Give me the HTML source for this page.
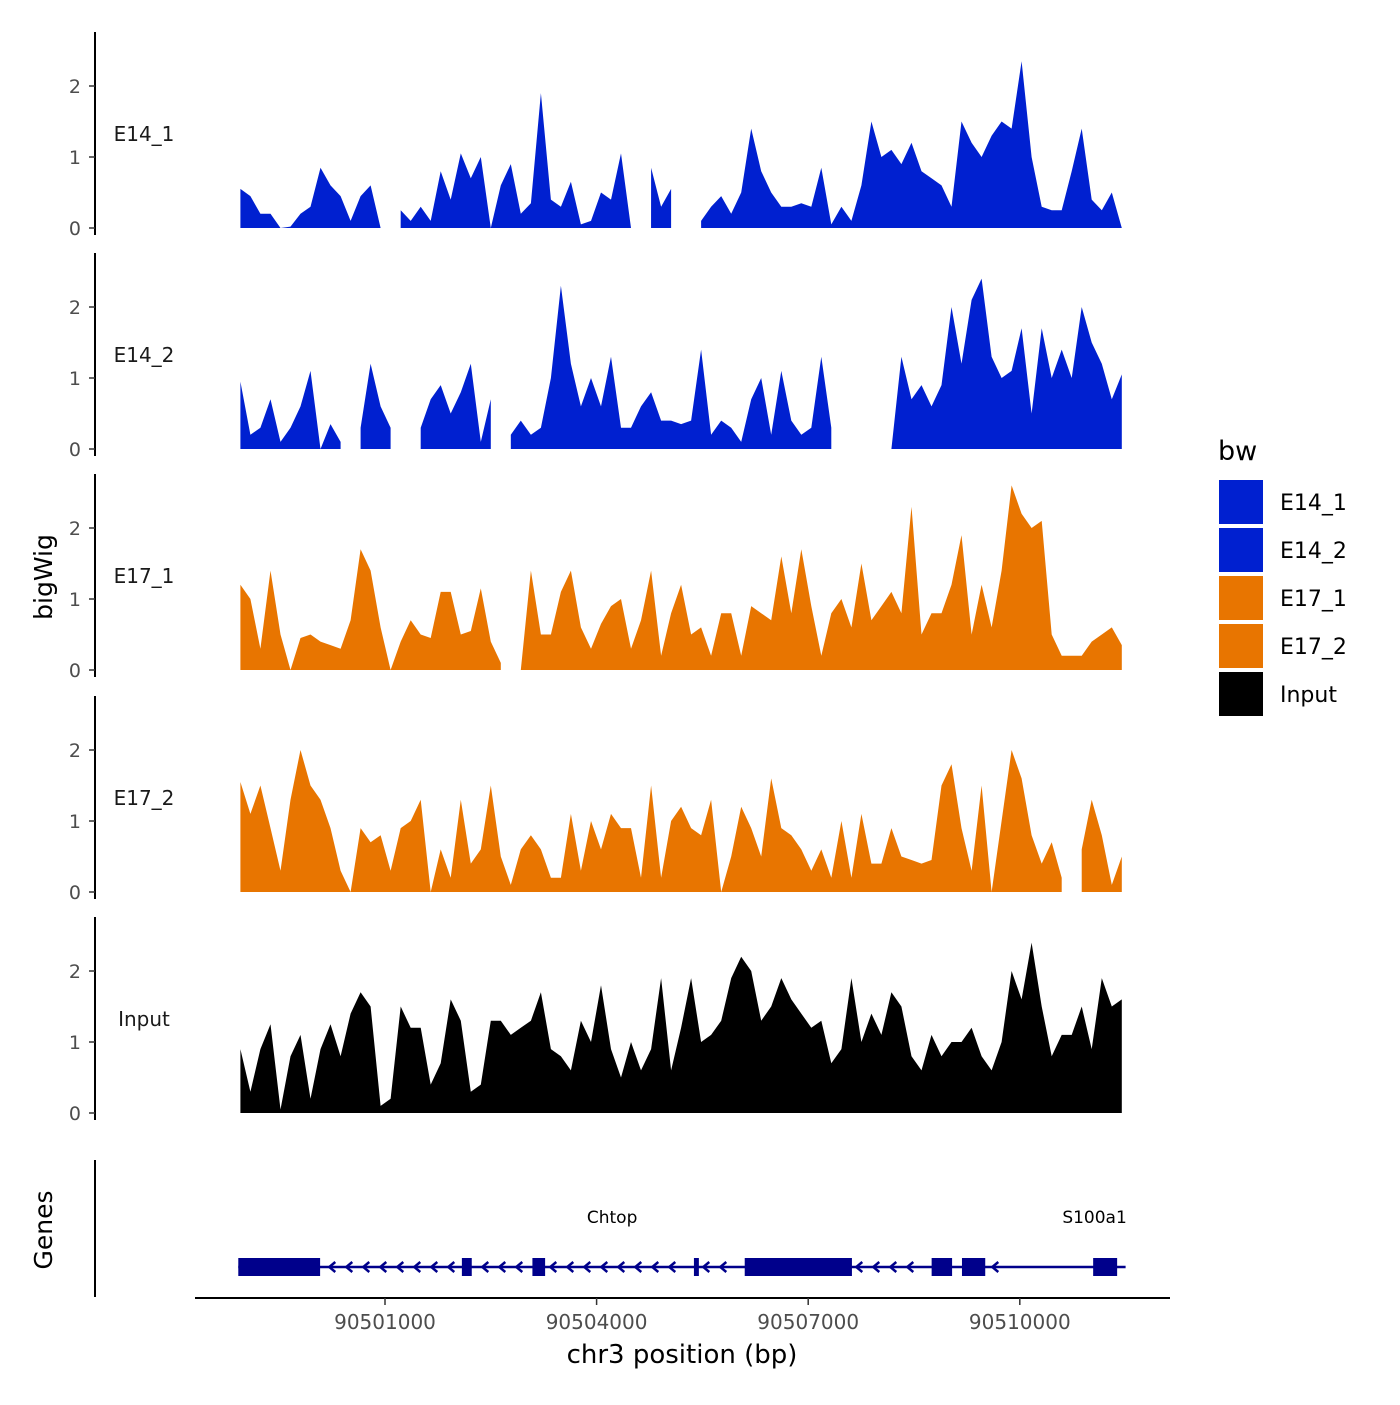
<!DOCTYPE html>
<html><head><meta charset="utf-8"><style>
html,body{margin:0;padding:0;background:#fff;}
svg text{font-family:"DejaVu Sans","Liberation Sans",sans-serif;}
</style></head><body>
<svg id="chart" width="1400" height="1400" viewBox="0 0 1400 1400" xmlns="http://www.w3.org/2000/svg">
<rect width="1400" height="1400" fill="#fff"/>
<g id="tracks"></g>
<g id="genes"></g>
<g id="axes"></g>
<g id="legend"></g>
</svg>
<script>
const binStart = 90498950;
const binStep = 142;
const trackNames = ["E14_1","E14_2","E17_1","E17_2","Input"];
const trackColors = ["#0020D0","#0020D0","#E87500","#E87500","#000000"];
const yTicks = [0,1,2];
const xTicks = [90501000,90504000,90507000,90510000];
const xTickLabels = ["90501000","90504000","90507000","90510000"];
const N = null;
const e14_1 = [0.55,0.45,0.2,0.2,0.0,0.02,0.2,0.3,0.85,0.6,0.45,0.1,0.45,0.6,0.0,N,0.25,0.1,0.3,0.1,0.8,0.4,1.05,0.7,1.0,0.0,0.6,0.9,0.2,0.35,1.9,0.4,0.3,0.65,0.05,0.1,0.5,0.4,1.05,0.0,N,0.85,0.3,0.55,N,N,0.1,0.3,0.45,0.2,0.5,1.4,0.8,0.5,0.3,0.3,0.35,0.3,0.85,0.05,0.3,0.1,0.6,1.5,1.0,1.1,0.9,1.2,0.8,0.7,0.6,0.3,1.5,1.2,1.0,1.3,1.5,1.4,2.35,1.0,0.3,0.25,0.25,0.8,1.4,0.4,0.25,0.5,0.0];
const e14_2 = [0.95,0.2,0.3,0.7,0.1,0.3,0.6,1.1,0.0,0.35,0.1,N,0.3,1.2,0.6,0.3,N,N,0.3,0.7,0.9,0.5,0.8,1.2,0.1,0.7,N,0.2,0.4,0.2,0.3,1.0,2.3,1.2,0.6,1.0,0.6,1.3,0.3,0.3,0.6,0.8,0.4,0.4,0.35,0.4,1.4,0.2,0.4,0.3,0.1,0.7,1.0,0.2,1.1,0.4,0.2,0.3,1.3,0.3,N,N,N,N,N,0.0,1.3,0.7,0.9,0.6,0.9,2.0,1.2,2.1,2.4,1.3,1.0,1.1,1.7,0.5,1.7,1.0,1.4,1.0,2.0,1.5,1.2,0.7,1.05];
const e17_1 = [1.2,1.0,0.3,1.4,0.5,0.0,0.45,0.5,0.4,0.35,0.3,0.7,1.7,1.4,0.6,0.0,0.4,0.7,0.5,0.45,1.1,1.1,0.5,0.55,1.15,0.4,0.1,N,0.0,1.4,0.5,0.5,1.1,1.4,0.6,0.3,0.65,0.9,1.0,0.3,0.7,1.4,0.2,0.8,1.2,0.5,0.6,0.2,0.8,0.8,0.2,0.9,0.8,0.7,1.6,0.8,1.7,0.9,0.2,0.8,1.0,0.6,1.5,0.7,0.9,1.1,0.8,2.3,0.5,0.8,0.8,1.2,1.9,0.5,1.2,0.6,1.4,2.6,2.2,2.0,2.1,0.5,0.2,0.2,0.2,0.4,0.5,0.6,0.35];
const e17_2 = [1.55,1.1,1.5,0.9,0.3,1.3,2.0,1.5,1.3,0.9,0.3,0.0,0.9,0.7,0.8,0.3,0.9,1.0,1.3,0.0,0.6,0.2,1.3,0.4,0.6,1.5,0.5,0.1,0.6,0.8,0.6,0.2,0.2,1.1,0.3,1.0,0.6,1.1,0.9,0.9,0.2,1.5,0.2,1.0,1.2,0.9,0.8,1.3,0.0,0.5,1.2,0.9,0.5,1.6,0.9,0.8,0.6,0.3,0.6,0.2,1.0,0.2,1.1,0.4,0.4,0.9,0.5,0.45,0.4,0.45,1.5,1.8,0.9,0.3,1.5,0.0,1.0,2.0,1.6,0.8,0.4,0.7,0.2,N,0.6,1.3,0.8,0.1,0.5];
const input = [0.9,0.3,0.9,1.25,0.05,0.8,1.1,0.2,0.9,1.25,0.8,1.4,1.7,1.5,0.1,0.2,1.5,1.2,1.2,0.4,0.7,1.6,1.3,0.3,0.4,1.3,1.3,1.1,1.2,1.3,1.7,0.9,0.8,0.6,1.3,1.0,1.8,0.9,0.5,1.0,0.6,0.9,1.9,0.6,1.2,1.9,1.0,1.1,1.3,1.9,2.2,2.0,1.3,1.5,1.9,1.6,1.4,1.2,1.3,0.7,0.9,1.9,1.0,1.4,1.1,1.7,1.5,0.8,0.6,1.1,0.8,1.0,1.0,1.2,0.8,0.6,1.0,2.0,1.6,2.4,1.5,0.8,1.1,1.1,1.5,0.9,1.9,1.5,1.6];
const trackValues = [e14_1,e14_2,e17_1,e17_2,input];
const exonStarts = [90498920,90502090,90503090,90505380,90506100,90508750,90509180,90511040];
const exonEnds   = [90500080,90502230,90503270,90505450,90507620,90509040,90509510,90511380];
const geneStart = 90498920, geneEnd = 90511500;
const geneNames = ["Chtop","S100a1"];
const geneLabelPos = [90504220,90511060];

const NS="http://www.w3.org/2000/svg";
function mk(tag,attrs,parent){const e=document.createElementNS(NS,tag);for(const k in attrs)e.setAttribute(k,attrs[k]);parent.appendChild(e);return e;}
const xScale = bp => 385 + (bp-90501000)*(211.6/3000);
const baselines=[228,449,670,892,1113];
const yScale = (v,t) => baselines[t] - v*71;

const gT=document.getElementById('tracks');
trackValues.forEach((vals,t)=>{
  let seg=[];
  const segs=[];
  vals.forEach((v,i)=>{
    if(v===null){ if(seg.length) segs.push(seg); seg=[]; }
    else seg.push([xScale(binStart+i*binStep),v]);
  });
  if(seg.length) segs.push(seg);
  segs.forEach(s=>{
    let d=`M${s[0][0]},${baselines[t]}`;
    s.forEach(p=>{d+=` L${p[0].toFixed(1)},${yScale(p[1],t).toFixed(1)}`;});
    d+=` L${s[s.length-1][0].toFixed(1)},${baselines[t]} Z`;
    const p=mk('path',{d:d,fill:trackColors[t]},gT);
    
    
  });
});

const gA=document.getElementById('axes');
trackNames.forEach((name,t)=>{
  const b=baselines[t];
  const ax=mk('line',{x1:95,x2:95,y1:b-196,y2:b+7,stroke:'#000','stroke-width':2},gA);
  
  
  yTicks.forEach(v=>{
    mk('line',{x1:89,x2:95,y1:yScale(v,t),y2:yScale(v,t),stroke:'#333','stroke-width':1.5},gA);
    const tl=mk('text',{x:81,y:yScale(v,t)+7,'text-anchor':'end','font-size':19,fill:'#4d4d4d'},gA);
    tl.textContent=v;
    
    
  });
  const lab=mk('text',{x:144,y:b-87,'text-anchor':'middle','font-size':20,fill:'#1a1a1a'},gA);
  lab.textContent=name;
  
  
});
const yt=mk('text',{x:0,y:0,'font-size':25,'text-anchor':'middle',fill:'#000',transform:'translate(52,577) rotate(-90)'},gA);
yt.textContent='bigWig';


const gt=mk('text',{x:0,y:0,'font-size':25,'text-anchor':'middle',fill:'#000',transform:'translate(52,1230) rotate(-90)'},gA);
gt.textContent='Genes';


const ga=mk('line',{x1:95,x2:95,y1:1160,y2:1297,stroke:'#000','stroke-width':2},gA);


const xa=mk('line',{x1:195,x2:1170,y1:1298,y2:1298,stroke:'#000','stroke-width':2},gA);


xTicks.forEach((v,i)=>{
  const x=xScale(v);
  mk('line',{x1:x,x2:x,y1:1298,y2:1305,stroke:'#333','stroke-width':1.5},gA);
  const tl=mk('text',{x:x,y:1329,'text-anchor':'middle','font-size':20,fill:'#4d4d4d'},gA);
  tl.textContent=xTickLabels[i];
  
  
});
const xt=mk('text',{x:682,y:1363,'text-anchor':'middle','font-size':26,fill:'#000'},gA);
xt.textContent='chr3 position (bp)';



const gG=document.getElementById('genes');
const gy=1267, navy='#00008B';
const gl=mk('line',{x1:xScale(geneStart),x2:xScale(geneEnd),y1:gy,y2:gy,stroke:navy,'stroke-width':2.5},gG);


for(let x=xScale(geneStart)+8;x<xScale(90509800);x+=17){
  const inExon=exonStarts.some((s,i)=>x>xScale(s)-6&&x<xScale(exonEnds[i])+6);
  if(inExon) continue;
  mk('polyline',{points:`${x+4},${gy-5} ${x-2},${gy} ${x+4},${gy+5}`,fill:'none',stroke:navy,'stroke-width':2.5},gG);
}
exonStarts.forEach((s,i)=>{
  const r=mk('rect',{x:xScale(s),y:gy-9,width:xScale(exonEnds[i])-xScale(s),height:18,fill:navy},gG);
  
  
});
geneNames.forEach((n,i)=>{
  const t=mk('text',{x:xScale(geneLabelPos[i]),y:1223,'text-anchor':'middle','font-size':17,fill:'#000'},gG);
  t.textContent=n;
  
  
});

const gL=document.getElementById('legend');
const lt=mk('text',{x:1218,y:460,'font-size':27,fill:'#000'},gL);
lt.textContent='bw';


trackNames.forEach((n,i)=>{
  const y=480+i*48;
  const r=mk('rect',{x:1219,y:y,width:44,height:44,fill:trackColors[i]},gL);
  
  
  const t=mk('text',{x:1280,y:y+30,'font-size':22,fill:'#000'},gL);
  t.textContent=n;
  
  
});
</script>
</body></html>
